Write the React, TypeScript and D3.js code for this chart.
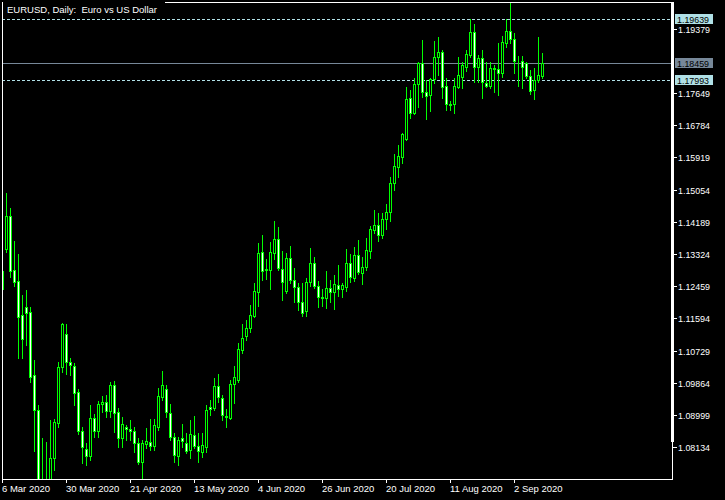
import React from 'react';
import * as d3 from 'd3';

const opens = [
  1.1239, 1.1346, 1.1435, 1.1290, 1.1260, 1.1169, 1.1190, 1.1177, 1.1008, 1.0914,
  1.0685, 1.0691, 1.0718, 1.0785, 1.0879, 1.1029, 1.1118, 1.1043, 1.1032, 1.0962,
  1.0857, 1.0809, 1.0790, 1.0892, 1.0857, 1.0930, 1.0935, 1.0911, 1.0981, 1.0908,
  1.0838, 1.0868, 1.0862, 1.0857, 1.0825, 1.0774, 1.0822, 1.0828, 1.0817, 1.0868,
  1.0949, 1.0970, 1.0905, 1.0841, 1.0790, 1.0838, 1.0825, 1.0806, 1.0846, 1.0817,
  1.0801, 1.0815, 1.0922, 1.0919, 1.0978, 1.0946, 1.0897, 1.0892, 1.0983, 1.0994,
  1.1075, 1.1112, 1.1134, 1.1166, 1.1231, 1.1338, 1.1290, 1.1290, 1.1335, 1.1373,
  1.1292, 1.1233, 1.1322, 1.1263, 1.1244, 1.1204, 1.1180, 1.1257, 1.1308, 1.1247,
  1.1217, 1.1215, 1.1241, 1.1231, 1.1249, 1.1239, 1.1244, 1.1308, 1.1268, 1.1330,
  1.1282, 1.1298, 1.1341, 1.1397, 1.1411, 1.1384, 1.1427, 1.1446, 1.1523, 1.1566,
  1.1593, 1.1642, 1.1752, 1.1711, 1.1789, 1.1846, 1.1768, 1.1760, 1.1803, 1.1862,
  1.1875, 1.1784, 1.1736, 1.1736, 1.1781, 1.1808, 1.1835, 1.1867, 1.1929, 1.1835,
  1.1859, 1.1792, 1.1784, 1.1832, 1.1830, 1.1819, 1.1900, 1.1932, 1.1910, 1.1851,
  1.1852, 1.1846, 1.1811, 1.1773, 1.1800, 1.1811,
];

const highs = [
  1.1300, 1.1497, 1.1456, 1.1368, 1.1333, 1.1223, 1.1236, 1.1190, 1.1048, 1.0927,
  1.0838, 1.0828, 1.0887, 1.0889, 1.1043, 1.1147, 1.1145, 1.1053, 1.1040, 1.0970,
  1.0868, 1.0825, 1.0927, 1.0903, 1.0938, 1.0951, 1.0954, 1.0989, 1.0992, 1.0919,
  1.0895, 1.0873, 1.0887, 1.0868, 1.0838, 1.0833, 1.0865, 1.0889, 1.0889, 1.0973,
  1.1018, 1.0981, 1.0930, 1.0852, 1.0841, 1.0876, 1.0852, 1.0887, 1.0897, 1.0852,
  1.0852, 1.0927, 1.0940, 1.1000, 1.1010, 1.0954, 1.0916, 1.0994, 1.1032, 1.1094,
  1.1145, 1.1155, 1.1196, 1.1255, 1.1362, 1.1384, 1.1319, 1.1365, 1.1421, 1.1405,
  1.1341, 1.1335, 1.1354, 1.1295, 1.1255, 1.1255, 1.1268, 1.1349, 1.1325, 1.1260,
  1.1239, 1.1287, 1.1263, 1.1276, 1.1303, 1.1255, 1.1346, 1.1333, 1.1351, 1.1370,
  1.1325, 1.1376, 1.1408, 1.1451, 1.1443, 1.1443, 1.1467, 1.1540, 1.1601, 1.1626,
  1.1658, 1.1781, 1.1773, 1.1805, 1.1848, 1.1908, 1.1800, 1.1805, 1.1905, 1.1916,
  1.1881, 1.1805, 1.1744, 1.1805, 1.1862, 1.1848, 1.1881, 1.1964, 1.1951, 1.1867,
  1.1881, 1.1848, 1.1848, 1.1840, 1.1900, 1.1918, 1.1964, 1.2007, 1.1926, 1.1865,
  1.1865, 1.1848, 1.1827, 1.1832, 1.1916, 1.1873,
];

const lows = [
  1.1231, 1.1338, 1.1271, 1.1247, 1.1053, 1.1053, 1.1088, 1.0989, 1.0803, 1.0672,
  1.0645, 1.0637, 1.0699, 1.0752, 1.0868, 1.1016, 1.1010, 1.1008, 1.0927, 1.0849,
  1.0771, 1.0766, 1.0779, 1.0841, 1.0841, 1.0908, 1.0895, 1.0895, 1.0854, 1.0814,
  1.0814, 1.0833, 1.0833, 1.0801, 1.0769, 1.0728, 1.0812, 1.0806, 1.0806, 1.0860,
  1.0940, 1.0895, 1.0833, 1.0774, 1.0766, 1.0814, 1.0798, 1.0785, 1.0812, 1.0774,
  1.0787, 1.0801, 1.0900, 1.0914, 1.0935, 1.0887, 1.0868, 1.0889, 1.0932, 1.0989,
  1.1067, 1.1102, 1.1123, 1.1163, 1.1193, 1.1263, 1.1266, 1.1239, 1.1319, 1.1290,
  1.1209, 1.1228, 1.1255, 1.1204, 1.1182, 1.1166, 1.1166, 1.1247, 1.1241, 1.1190,
  1.1193, 1.1188, 1.1204, 1.1185, 1.1220, 1.1217, 1.1233, 1.1257, 1.1260, 1.1279,
  1.1252, 1.1290, 1.1322, 1.1389, 1.1368, 1.1376, 1.1400, 1.1421, 1.1505, 1.1540,
  1.1577, 1.1640, 1.1698, 1.1709, 1.1728, 1.1754, 1.1695, 1.1717, 1.1792, 1.1814,
  1.1752, 1.1720, 1.1720, 1.1711, 1.1779, 1.1779, 1.1824, 1.1862, 1.1795, 1.1795,
  1.1752, 1.1781, 1.1779, 1.1768, 1.1760, 1.1808, 1.1889, 1.1900, 1.1819, 1.1784,
  1.1779, 1.1805, 1.1762, 1.1749, 1.1795, 1.1805,
];

const closes = [
  1.1287, 1.1435, 1.1287, 1.1257, 1.1163, 1.1104, 1.1174, 1.1002, 1.0914, 1.0685,
  1.0691, 1.0718, 1.0785, 1.0881, 1.1029, 1.1145, 1.1043, 1.1035, 1.0959, 1.0857,
  1.0814, 1.0790, 1.0892, 1.0857, 1.0930, 1.0935, 1.0911, 1.0981, 1.0905, 1.0838,
  1.0876, 1.0862, 1.0857, 1.0825, 1.0774, 1.0825, 1.0830, 1.0817, 1.0873, 1.0951,
  1.0981, 1.0908, 1.0841, 1.0793, 1.0833, 1.0830, 1.0803, 1.0849, 1.0817, 1.0803,
  1.0820, 1.0914, 1.0916, 1.0978, 1.0949, 1.0900, 1.0895, 1.0983, 1.1002, 1.1077,
  1.1107, 1.1134, 1.1169, 1.1233, 1.1335, 1.1287, 1.1292, 1.1338, 1.1373, 1.1295,
  1.1257, 1.1322, 1.1263, 1.1244, 1.1204, 1.1174, 1.1257, 1.1308, 1.1247, 1.1217,
  1.1215, 1.1241, 1.1231, 1.1252, 1.1239, 1.1249, 1.1308, 1.1271, 1.1330, 1.1284,
  1.1298, 1.1343, 1.1400, 1.1411, 1.1384, 1.1427, 1.1446, 1.1523, 1.1569, 1.1596,
  1.1655, 1.1749, 1.1711, 1.1789, 1.1846, 1.1768, 1.1757, 1.1803, 1.1862, 1.1875,
  1.1781, 1.1736, 1.1733, 1.1784, 1.1814, 1.1840, 1.1870, 1.1929, 1.1835, 1.1859,
  1.1795, 1.1784, 1.1832, 1.1830, 1.1819, 1.1902, 1.1932, 1.1910, 1.1851, 1.1852,
  1.1835, 1.1811, 1.1771, 1.1800, 1.1814, 1.18459,
];

const priceTicks = [
  1.19379, 1.17649, 1.16784, 1.15919, 1.15054, 1.14189, 1.13324,
  1.12459, 1.11594, 1.10729, 1.09864, 1.08999, 1.08134,
];

const dateTickBars = [0, 16, 32, 48, 64, 80, 96, 112, 128];
const dateTickLabels = [
  '6 Mar 2020', '30 Mar 2020', '21 Apr 2020', '13 May 2020', '4 Jun 2020',
  '26 Jun 2020', '20 Jul 2020', '11 Aug 2020', '2 Sep 2020',
];

const upperLevel = 1.19639;
const bidPrice = 1.18459;
const lowerLevel = 1.17993;

const title = 'EURUSD, Daily:  Euro vs US Dollar';

const W = 725;
const H = 500;
const L = 2;
const T = 2;
const R = 672;
const B = 479;

const FONT = '"Liberation Sans", Arial, sans-serif';
const LIME = '#00ff00';
const LEVEL = '#b0e0e6';
const BIDC = '#778899';

export default function App() {
  const x = d3.scaleLinear().domain([0, 1]).range([2.5, 6.5]);
  const y = d3.scaleLinear().domain([1.07282, 1.2015]).range([B, 0]);
  const py = (v: number) => Math.round(y(v));

  const candles = opens.map((o, i) => {
    const c = closes[i];
    const cx = x(i);
    const yo = py(o);
    const yc = py(c);
    const top = Math.min(yo, yc);
    const bot = Math.max(yo, yc);
    const bull = c > o;
    return (
      <g key={i}>
        <line
          x1={cx}
          x2={cx}
          y1={py(highs[i]) + 0.5 - 0.5}
          y2={py(lows[i]) + 1}
          stroke={LIME}
          strokeWidth={1}
        />
        <rect
          x={cx - 1}
          y={top + 0.5}
          width={2}
          height={bot - top}
          fill={bull ? '#000000' : '#ffffff'}
          stroke={LIME}
          strokeWidth={1}
        />
      </g>
    );
  });

  const levelLabel = (v: number, bg: string, key: string) => {
    const yy = py(v);
    return (
      <g key={key}>
        <rect x={675} y={yy - 5} width={38} height={10} fill={bg} />
        <text
          x={677}
          y={yy + 4}
          fontFamily={FONT}
          fontSize={9.5}
          fill="#000000"
          textLength={32}
          lengthAdjust="spacingAndGlyphs"
        >
          {v.toFixed(5)}
        </text>
      </g>
    );
  };

  return (
    <svg
      width={W}
      height={H}
      style={{ position: 'absolute', left: 0, top: 0, display: 'block', background: '#000' }}
    >
      <rect x={0} y={0} width={W} height={H} fill="#000000" />
      <defs>
        <clipPath id="plot">
          <rect x={L + 1} y={T + 1} width={R - L - 1} height={B - T - 1} />
        </clipPath>
      </defs>

      <g clipPath="url(#plot)" shapeRendering="crispEdges">
        <line x1={L} x2={R} y1={py(upperLevel) + 0.5} y2={py(upperLevel) + 0.5} stroke={LEVEL} strokeDasharray="3,2" />
        <line x1={L} x2={R} y1={py(lowerLevel) + 0.5} y2={py(lowerLevel) + 0.5} stroke={LEVEL} strokeDasharray="3,2" />
        <line x1={L} x2={R} y1={py(bidPrice) + 0.5} y2={py(bidPrice) + 0.5} stroke={BIDC} />
        {candles}
      </g>

      <g shapeRendering="crispEdges">
        <line x1={L + 0.5} x2={L + 0.5} y1={T} y2={B + 1} stroke="#ffffff" />
        <line x1={L} x2={R} y1={T + 0.5} y2={T + 0.5} stroke="#ffffff" />
        <line x1={L} x2={R + 1} y1={B + 0.5} y2={B + 0.5} stroke="#ffffff" />
        <rect x={671} y={T} width={3} height={440} fill="#ffffff" />
        <line x1={672.5} x2={672.5} y1={T} y2={B + 1} stroke="#ffffff" />
      </g>

      <rect x={L + 1} y={0} width={162} height={16} fill="#000000" />
      <text
        x={7}
        y={13}
        fontFamily={FONT}
        fontSize={9.5}
        fill="#ffffff"
        style={{ whiteSpace: 'pre' }}
        textLength={150}
        lengthAdjust="spacingAndGlyphs"
      >
        {title}
      </text>

      {priceTicks.map((v) => {
        const yy = py(v);
        return (
          <g key={v}>
            <line x1={673} x2={677} y1={yy + 0.5} y2={yy + 0.5} stroke="#ffffff" shapeRendering="crispEdges" />
            <text x={678} y={yy + 4} fontFamily={FONT} fontSize={9.5} fill="#ffffff" textLength={32} lengthAdjust="spacingAndGlyphs">
              {v.toFixed(5)}
            </text>
          </g>
        );
      })}

      {levelLabel(upperLevel, LEVEL, 'u')}
      {levelLabel(bidPrice, BIDC, 'b')}
      {levelLabel(lowerLevel, LEVEL, 'l')}

      {dateTickBars.map((b, k) => {
        const xx = Math.floor(x(b)) + 0.5;
        return (
          <g key={b}>
            <line x1={xx} x2={xx} y1={B} y2={B + 4} stroke="#ffffff" shapeRendering="crispEdges" />
            <text x={xx - 0.5} y={492} fontFamily={FONT} fontSize={9.5} fill="#ffffff">
              {dateTickLabels[k]}
            </text>
          </g>
        );
      })}
    </svg>
  );
}
